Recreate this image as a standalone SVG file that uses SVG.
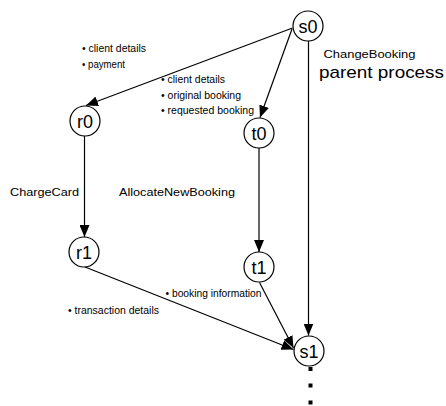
<svg xmlns="http://www.w3.org/2000/svg" width="446" height="406" viewBox="0 0 446 406">
<defs>
<marker id="arr" markerUnits="userSpaceOnUse" markerWidth="12" markerHeight="10" refX="12" refY="5" orient="auto">
<path d="M0,0 L12,5 L0,10 z" fill="#000"/>
</marker>
<style>
.node circle{fill:#fff;stroke:#000;stroke-width:1.2}
.node text{font-family:"Liberation Sans",Arial,sans-serif;font-size:18px;text-anchor:middle;fill:#000}
.edge{stroke:#000;stroke-width:1.2;fill:none;marker-end:url(#arr)}
.lbl{font-family:"Liberation Sans",Arial,sans-serif;font-size:11.5px;fill:#000}
.bul{font-family:"Liberation Sans",Arial,sans-serif;font-size:10.5px;fill:#000}
</style>
</defs>
<rect width="446" height="406" fill="#fff"/>
<g id="connectors">
<line class="edge" x1="292.5" y1="28" x2="86" y2="105.5"/>
<line class="edge" x1="292" y1="29" x2="260" y2="117.5"/>
<line class="edge" x1="308.5" y1="41" x2="308.5" y2="335.5"/>
<line class="edge" x1="84.5" y1="136" x2="84.5" y2="237"/>
<line class="edge" x1="259" y1="148" x2="259" y2="252"/>
<line class="edge" x1="85" y1="267" x2="293.5" y2="349.5"/>
<line class="edge" x1="259.5" y1="282.5" x2="293.5" y2="348"/>
<rect x="308.5" y="367" width="4" height="4" fill="#000"/>
<rect x="308.5" y="383.5" width="4" height="4" fill="#000"/>
<rect x="308.5" y="400.5" width="4" height="4" fill="#000"/>
</g>
<g id="s0" class="node"><circle cx="308" cy="26" r="15"/><text x="308" y="32.5">s0</text></g>
<g id="r0" class="node"><circle cx="85" cy="121" r="15"/><text x="85" y="127.5">r0</text></g>
<g id="t0" class="node"><circle cx="259" cy="133" r="15"/><text x="259" y="139.5">t0</text></g>
<g id="r1" class="node"><circle cx="84" cy="252" r="15"/><text x="84" y="258.5">r1</text></g>
<g id="t1" class="node"><circle cx="259" cy="267" r="15"/><text x="259" y="273.5">t1</text></g>
<g id="s1" class="node"><circle cx="309" cy="351" r="15"/><text x="309" y="357.5">s1</text></g>
<g id="labels">
<text class="bul" x="82" y="52" textLength="64" lengthAdjust="spacingAndGlyphs">• client details</text>
<text class="bul" x="82" y="67.5" textLength="43" lengthAdjust="spacingAndGlyphs">• payment</text>
<text class="bul" x="161" y="83" textLength="64" lengthAdjust="spacingAndGlyphs">• client details</text>
<text class="bul" x="161" y="98.5" textLength="80" lengthAdjust="spacingAndGlyphs">• original booking</text>
<text class="bul" x="161" y="114" textLength="93" lengthAdjust="spacingAndGlyphs">• requested booking</text>
<text class="bul" x="165.5" y="297" textLength="96" lengthAdjust="spacingAndGlyphs">• booking information</text>
<text class="bul" x="68" y="313.5" textLength="91" lengthAdjust="spacingAndGlyphs">• transaction details</text>
<text class="lbl" x="10" y="196" textLength="69" lengthAdjust="spacingAndGlyphs">ChargeCard</text>
<text class="lbl" x="119" y="196" textLength="116" lengthAdjust="spacingAndGlyphs">AllocateNewBooking</text>
<text class="lbl" x="323.5" y="57.5" textLength="92" lengthAdjust="spacingAndGlyphs">ChangeBooking</text>
<text class="lbl" x="319" y="77.5" textLength="125" lengthAdjust="spacingAndGlyphs" style="font-size:17px">parent process</text>
</g>
</svg>
